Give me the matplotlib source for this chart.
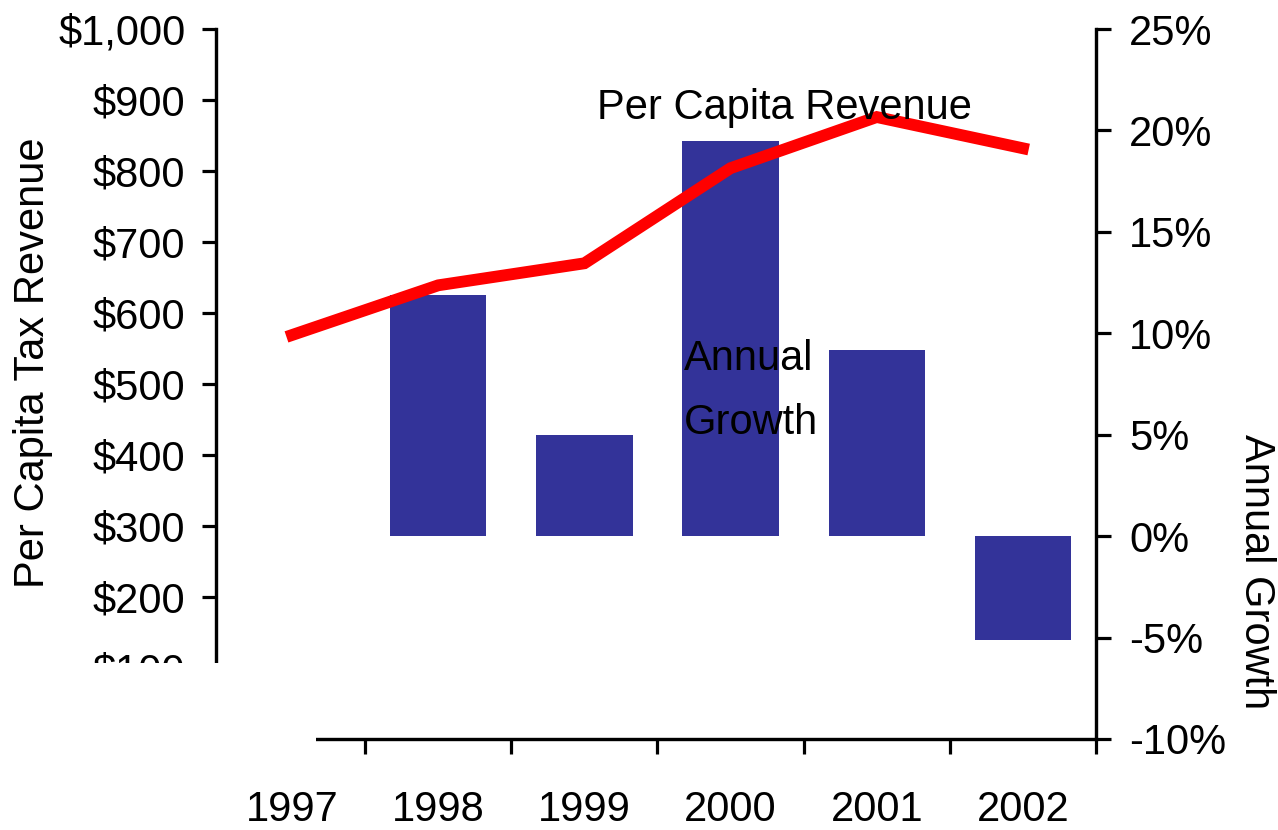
import matplotlib
matplotlib.use("Agg")
import matplotlib.pyplot as plt
from matplotlib import font_manager
from matplotlib.patches import Rectangle

years = ["1997", "1998", "1999", "2000", "2001", "2002"]
revenue = [569, 639, 670, 804, 876, 832]          # $ per capita
growth_years = ["1998", "1999", "2000", "2001", "2002"]
growth = [11.9, 5.0, 19.5, 9.2, -5.1]              # % annual growth
rev_ticks = [100, 200, 300, 400, 500, 600, 700, 800, 900, 1000]
rev_labels = ["$100", "$200", "$300", "$400", "$500", "$600", "$700", "$800", "$900", "$1,000"]
gr_ticks = [-10, -5, 0, 5, 10, 15, 20, 25]
gr_labels = ["-10%", "-5%", "0%", "5%", "10%", "15%", "20%", "25%"]

names = {f.name for f in font_manager.fontManager.ttflist}
fam = "Liberation Sans Narrow" if "Liberation Sans Narrow" in names else "Liberation Sans"
plt.rcParams["font.family"] = [fam, "DejaVu Sans"]

FS = 30
W, H = 1278, 830
fig = plt.figure(figsize=(W / 100, H / 100), dpi=100)
L, R, T, B = 216, 1096, 29, 739
ax = fig.add_axes([L / W, 1 - B / H, (R - L) / W, (B - T) / H])
ax2 = ax.twinx()

xpos = list(range(len(years)))
gx = [years.index(y) for y in growth_years]

ax2.bar(gx, growth, width=0.66, color="#333399", zorder=2)
ax.plot(xpos, revenue, color="#FF0000", lw=8.5, solid_joinstyle="miter", zorder=3)

ax.set_zorder(ax2.get_zorder() + 1)
ax.patch.set_visible(False)

ax.set_xlim(-0.5 - 3 / 146.6, len(years) - 0.5)
ax.set_ylim(0, 1000)
ax2.set_ylim(-10, 25)

for a in (ax, ax2):
    for s in a.spines.values():
        s.set_linewidth(2.3)
    a.spines["top"].set_visible(False)

ax.set_yticks(rev_ticks)
ax.set_yticklabels(rev_labels, fontsize=FS)
ax.tick_params(axis="y", length=10, width=2.3, pad=12, direction="out")
ax2.set_yticks(gr_ticks)
ax2.set_yticklabels(gr_labels, fontsize=FS)
ax2.tick_params(axis="y", length=11, width=2.3, pad=13, direction="out")

ax.set_xticks([i + 0.5 for i in xpos])
ax.set_xticklabels([])
ax.set_xticks(xpos, minor=True)
ax.set_xticklabels(years, minor=True, fontsize=FS)
ax.tick_params(axis="x", which="major", length=11, width=2.3, direction="out")
ax.tick_params(axis="x", which="minor", length=0, pad=37)

ax.text(3.37, 889, "Per Capita Revenue", fontsize=FS, ha="center", va="center", zorder=4)
ax2.text(2.68, 9.7, "Annual\nGrowth", fontsize=FS, ha="left", va="top",
         linespacing=1.75, zorder=4)

fig.text(33 / W, 1 - 363 / H, "Per Capita Tax Revenue", fontsize=FS, rotation=90,
         ha="center", va="center")
fig.text(1256 / W, 1 - 572 / H, "Annual Growth", fontsize=FS, rotation=270,
         ha="center", va="center")

mask = Rectangle((0, 1 - 752 / H), 316 / W, (752 - 663) / H, transform=fig.transFigure,
                 facecolor="white", edgecolor="none", zorder=20)
fig.add_artist(mask)

fig.savefig("out.png", dpi=100, facecolor="white")
